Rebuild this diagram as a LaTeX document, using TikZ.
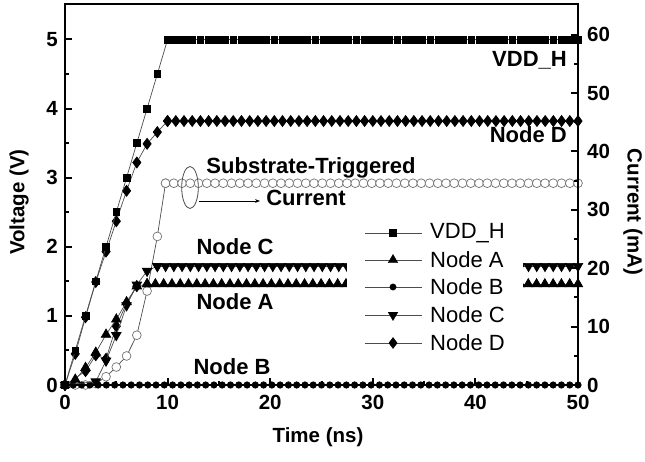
\documentclass[tikz,border=0pt]{standalone}
\usepackage{fontspec}
\setmainfont{Liberation Sans}
\usetikzlibrary{plotmarks,arrows.meta,shapes.geometric}

\tikzset{
  frame/.style={line width=2pt, black},
  trace/.style={line width=0.7pt, black!70},
  vdd/.style={mark=square*, mark size=3.4pt, mark options={solid, fill=black, draw=black}},
  nda/.style={mark=triangle*, mark size=5.5pt, mark options={solid, fill=black, draw=black}},
  ndc/.style={mark=triangle*, mark size=5.5pt, mark options={solid, fill=black, draw=black, rotate=180}},
  ndb/.style={mark=*, mark size=3.2pt, mark options={solid, fill=black, draw=black}},
  ndd/.style={mark=diamond*, mark size=5.5pt, mark options={solid, fill=black, draw=black}},
  cur/.style={mark=*, mark size=4.4pt, mark options={solid, fill=white, draw=black!55, line width=0.7pt}},
  lbl/.style={font=\fontsize{22}{26}\selectfont\bfseries, inner sep=0pt},
  ttl/.style={font=\fontsize{20.5}{24}\selectfont\bfseries, inner sep=0pt},
  ticklbl/.style={font=\fontsize{20.5}{24}\selectfont\bfseries, inner sep=0pt},
  keytxt/.style={font=\fontsize{22}{26}\selectfont, inner sep=0pt, anchor=west},
}

\begin{document}
\begin{tikzpicture}[x=1pt, y=1pt]
\useasboundingbox (0,0) rectangle (645,462);

\begin{scope}[shift={(65,77)}, x=10.26pt, y=69.1pt]
  % current (right axis)
  \draw[trace, cur] plot coordinates {(0,0) (1,0) (2,0) (3,0.02) (4,0.12) (5,0.26) (6,0.42) (7,0.72) (8,1.36) (9,2.15) (9.8,2.92)};
  \draw[trace, cur] plot[domain=9.8:50, samples=51] (\x,2.92);
  % node B
  \draw[trace, ndb] plot[domain=0:50, samples=63] (\x,0);
  % lower ramp
  \draw[trace, ndd] plot coordinates {(0,0) (2,0.2) (3,0.43) (4,0.38) (5,0.85) (6,1.18) (7,1.43)};
  % node C
  \draw[trace, ndc] plot coordinates {(0,0) (3,0.05) (4,0.35) (5,0.72) (6,1.15) (7,1.45) (8,1.65) (9,1.72)};
  \draw[trace, ndc] plot[domain=9:50, samples=52] (\x,1.72);
  % node A
  \draw[trace, nda] plot coordinates {(0,0) (1,0.08) (2,0.25) (3,0.47) (4,0.73) (5,0.95) (6,1.2) (7,1.43) (8,1.46)};
  \draw[trace, nda] plot[domain=8:50, samples=53] (\x,1.46);
  % node D
  \draw[trace, ndd] plot coordinates {(0,0) (1,0.45) (2,0.98) (3,1.49) (4,1.93) (5,2.37) (6,2.81) (7,3.22) (8,3.49) (9,3.66) (10,3.82)};
  \draw[trace, ndd] plot[domain=10:50, samples=51] (\x,3.82);
  % VDD_H
  \draw[trace, vdd] plot coordinates {(0,0) (1,0.5) (2,1) (3,1.5) (4,2) (5,2.5) (6,3) (7,3.5) (8,4) (9,4.5) (10,5)};
  \draw[trace, vdd] plot[domain=10:50, samples=51] (\x,5);

  % axes
  \draw[frame] (0,0) rectangle (50,5.51);
  \foreach \v in {0,...,5} {
    \draw[frame] (0,\v) -- ++(7pt,0);
    \node[ticklbl, anchor=east] (yl\v) at ([xshift=-7pt]0,\v) {\v};
  }
  \foreach \v in {0.5,1.5,...,4.5}
    \draw[frame] (0,\v) -- ++(4pt,0);
  \foreach \t in {0,10,...,50} {
    \draw[frame] (\t,0) -- ++(0,7pt);
    \node[ticklbl, anchor=north] (xl\t) at ([yshift=-10pt]\t,0) {\t};
  }
  \foreach \t in {5,15,...,45}
    \draw[frame] (\t,0) -- ++(0,4pt);
  \foreach \m in {0,10,...,60} {
    \draw[frame] (50,\m*0.0845) -- ++(-7pt,0);
    \node[ticklbl, anchor=west] (rl\m) at ([xshift=9pt]50,\m*0.0845) {\m};
  }
  \foreach \m in {5,15,...,55}
    \draw[frame] (50,\m*0.0845) -- ++(-4pt,0);
\end{scope}

% legend
\fill[white] (347,104) rectangle (523,244);
\foreach \y/\sty/\txt [count=\i] in {229/vdd/VDD\_H, 202/nda/Node A, 175/ndb/Node B, 147/ndc/Node C, 119/ndd/Node D} {
  \draw[trace] (365,\y) -- (422,\y);
  \path[\sty] plot coordinates {(393,\y)};
  \node[keytxt] (key\i) at (430,\y) {\txt};
}

% labels
\node[lbl, anchor=east] (vddlbl) at (567,402) {VDD\_H};
\node[lbl, anchor=east] (ndlbl) at (567,327) {Node D};
\node[lbl] (nclbl) at (235,215) {Node C};
\node[lbl] (nalbl) at (235,160) {Node A};
\node[lbl] (nblbl) at (232,95) {Node B};
\node[lbl] (sublbl) at (311,294) {Substrate-Triggered};
\node[lbl] (curlbl) at (306,264) {Current};
\node[draw=black!70, line width=0.8pt, ellipse, minimum width=16.6pt, minimum height=42pt, inner sep=0pt] (ell) at (190,274.5) {};
\coordinate (tip) at (260,261);
\draw[line width=0.7pt, -{Stealth[length=5pt]}] (ell.east |- tip) -- (tip);

\node[ttl, rotate=90] (ytitle) at (19,260) {Voltage (V)};
\node[ttl, rotate=-90] (rtitle) at (633,250) {Current (mA)};
\node[ttl] (xtitle) at (318,25) {Time (ns)};
\end{tikzpicture}
\end{document}
